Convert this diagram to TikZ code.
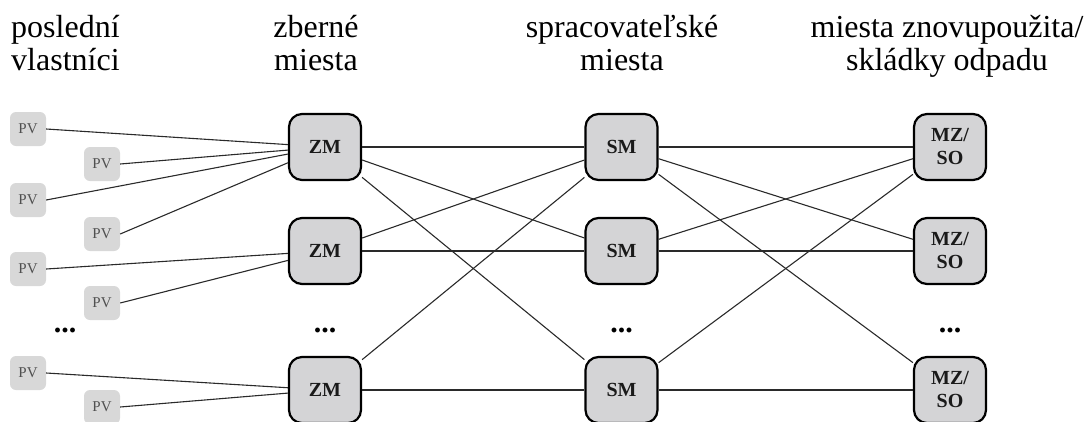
\documentclass[tikz,border=0pt]{standalone}
\usepackage{fontspec}
\setmainfont{Liberation Serif}
\begin{document}
\begin{tikzpicture}[x=1pt,y=-1pt,
  pvbox/.style={rectangle,rounded corners=6pt,fill=pvgray,draw=none,minimum width=36pt,minimum height=34pt,inner sep=0pt,font=\fontsize{15}{16}\selectfont,text=pvtext},
  bigbox/.style={rectangle,rounded corners=13pt,fill=boxgray,draw=black,line width=2.2pt,minimum width=72pt,minimum height=66pt,inner sep=0pt,font=\fontsize{20}{23}\selectfont\bfseries,align=center,text=textdark},
  head/.style={font=\fontsize{32}{33}\selectfont,inner sep=0pt,anchor=base},
  dots/.style={font=\fontsize{30}{30}\selectfont\bfseries,inner sep=0pt},
  link/.style={draw=linegray,line width=1.1pt}]
\definecolor{pvgray}{HTML}{D8D8D8}
\definecolor{pvtext}{HTML}{505050}
\definecolor{boxgray}{HTML}{D4D4D6}
\definecolor{textdark}{HTML}{1A1A1A}
\definecolor{linegray}{HTML}{2A2A2A}
\useasboundingbox (0,0) rectangle (1091,421);
% headers
\node[head,anchor=base west] (h1a) at (11,37) {poslední};
\node[head,anchor=base west] (h1b) at (11,70) {vlastníci};
\node[head] (h2a) at (316,37) {zberné};
\node[head] (h2b) at (316,70) {miesta};
\node[head] (h3a) at (622,37) {spracovateľské};
\node[head] (h3b) at (622,70) {miesta};
\node[head] (h4a) at (947,37) {miesta znovupoužita/};
\node[head] (h4b) at (947,70) {skládky odpadu};
% PV
\node[pvbox] (pv1) at (28,129) {PV};
\node[pvbox] (pv2) at (102,164) {PV};
\node[pvbox] (pv3) at (28,200) {PV};
\node[pvbox] (pv4) at (102,234) {PV};
\node[pvbox] (pv5) at (28,269) {PV};
\node[pvbox] (pv6) at (102,303) {PV};
\node[pvbox] (pv7) at (28,373) {PV};
\node[pvbox] (pv8) at (102,407) {PV};
\node[dots] (d1) at (65,330) {...};
% ZM
\node[bigbox] (zm1) at (325,147) {ZM};
\node[bigbox] (zm2) at (325,251) {ZM};
\node[dots] (d2) at (325,330) {...};
\node[bigbox] (zm3) at (325,390) {ZM};
% SM
\node[bigbox] (sm1) at (621.5,147) {SM};
\node[bigbox] (sm2) at (621.5,251) {SM};
\node[dots] (d3) at (621.5,330) {...};
\node[bigbox] (sm3) at (621.5,390) {SM};
% MZ
\node[bigbox] (mz1) at (950,147) {MZ/\\SO};
\node[bigbox] (mz2) at (950,251) {MZ/\\SO};
\node[dots] (d4) at (950,330) {...};
\node[bigbox] (mz3) at (950,390) {MZ/\\SO};
% links left
\foreach \p in {pv1,pv2,pv3,pv4} \draw[link] (\p.east) -- (zm1);
\foreach \p in {pv5,pv6} \draw[link] (\p.east) -- (zm2);
\foreach \p in {pv7,pv8} \draw[link] (\p.east) -- (zm3);
% middle
\draw[link] (zm1) -- (sm1);
\draw[link] (zm1) -- (sm2);
\draw[link] (zm1) -- (sm3);
\draw[link] (zm2) -- (sm1);
\draw[link] (zm2) -- (sm2);
\draw[link] (zm3) -- (sm1);
\draw[link] (zm3) -- (sm3);
% right
\draw[link] (sm1) -- (mz1);
\draw[link] (sm1) -- (mz2);
\draw[link] (sm1) -- (mz3);
\draw[link] (sm2) -- (mz1);
\draw[link] (sm2) -- (mz2);
\draw[link] (sm3) -- (mz1);
\draw[link] (sm3) -- (mz3);
\end{tikzpicture}
\end{document}
